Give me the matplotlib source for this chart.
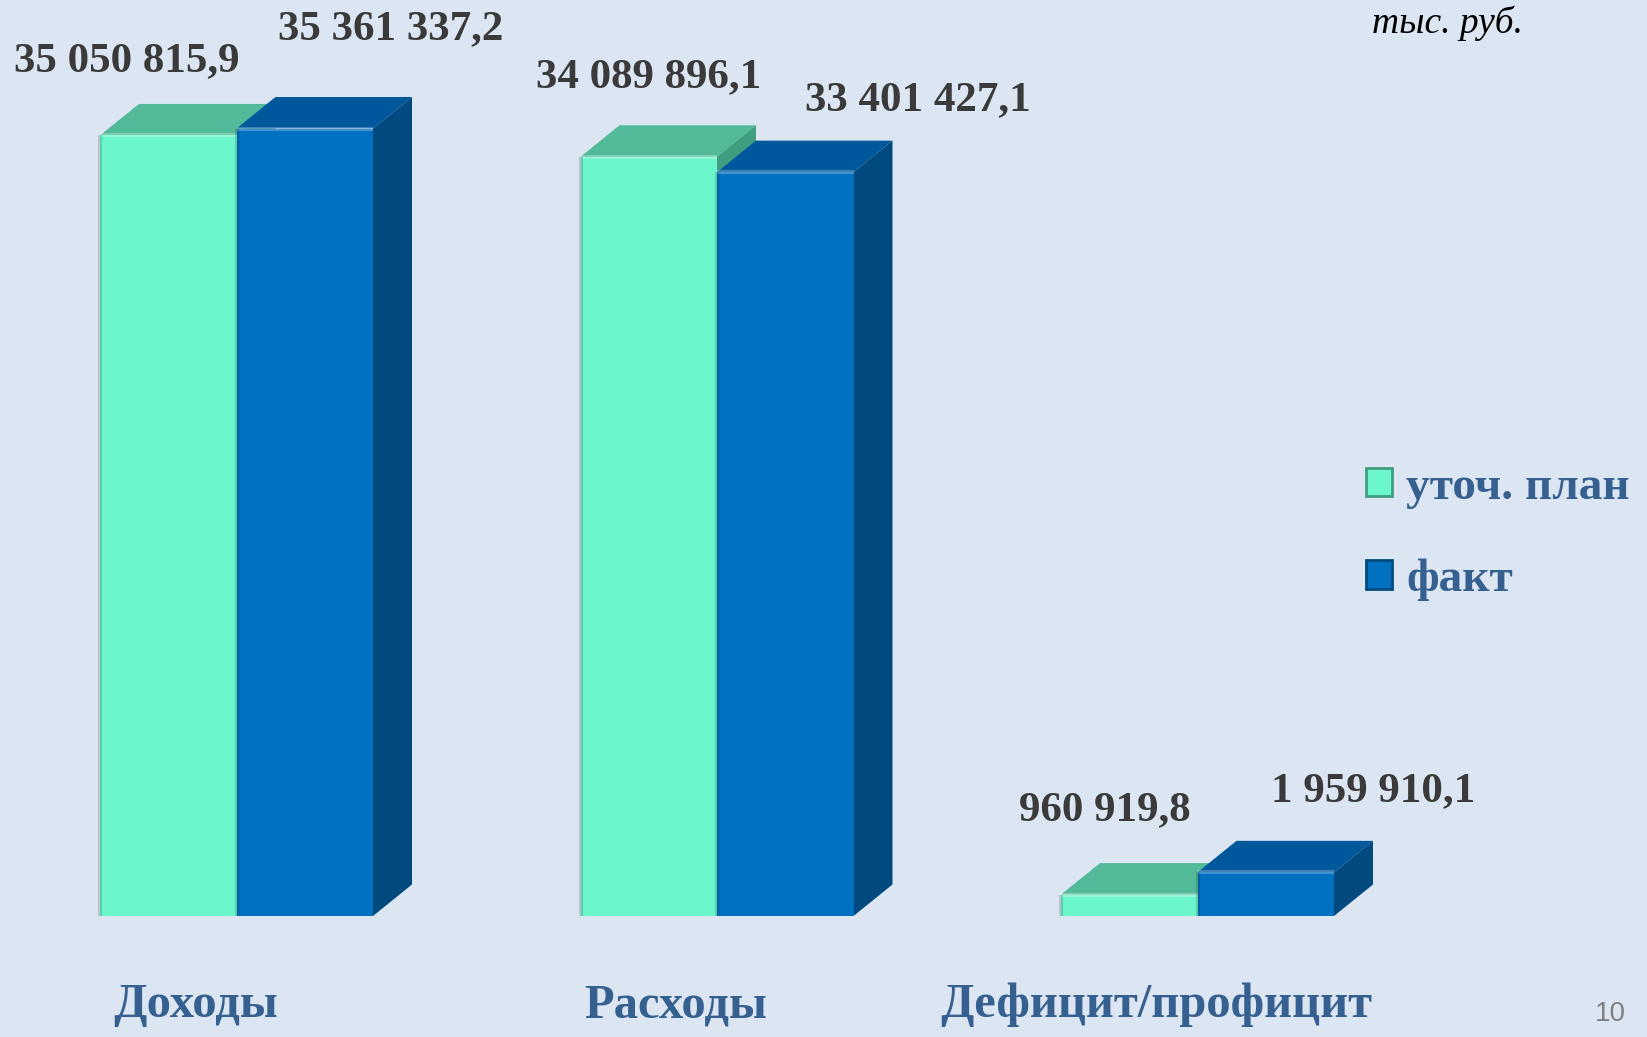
import matplotlib
matplotlib.use('Agg')
import matplotlib.pyplot as plt
from matplotlib.patches import Polygon, Patch
import numpy as np

categories = ['Доходы', 'Расходы', 'Дефицит/профицит']
plan = [35050815.9, 34089896.1, 960919.8]
fact = [35361337.2, 33401427.1, 1959910.1]
series_names = ['уточ. план', 'факт']
unit_label = 'тыс. руб.'
page_number = '10'

# label offsets in pixels (value labels were placed by hand in the slide)
plan_offsets = [(-42, 43), (0, 48), (-24, 53)]
fact_offsets = [(86, 68), (133, 40), (107, 50)]

bg = '#dce6f2'
plan_cols = dict(front='#6af5cb', top='#52ba98', side='#3f9e80')
fact_cols = dict(front='#0070c0', top='#00589c', side='#004a80')
text_blue = '#35608f'
serif = ['Liberation Serif', 'DejaVu Serif']

W, H = 1647, 1037
fig = plt.figure(figsize=(W / 100, H / 100), dpi=100, facecolor=bg)
ax = fig.add_axes([0, 0, 1, 1])
ax.set_facecolor(bg)
ax.axis('off')

# axes scales: group spacing 480.5 px, 22.27 px per million, baseline 121 px from bottom
px_x = 480.5
px_y = 22.27 / 1e6
ax.set_xlim(-236.5 / px_x, (W - 236.5) / px_x)
ax.set_ylim(-121 / px_y, (H - 121) / px_y)

bw = 136.5 / px_x          # bar width
dx = 39 / px_x             # depth offset x
dy = 31.5 / px_y           # depth offset y

x = np.arange(len(categories))


def draw_bars(xs, vals, cols, z):
    bars = ax.bar(xs, vals, width=bw, color=cols['front'], zorder=z + 1,
                  linewidth=0)
    for b, v in zip(bars, vals):
        x0, x1 = b.get_x(), b.get_x() + b.get_width()
        top = Polygon([(x0, v), (x0 + dx, v + dy), (x1 + dx, v + dy), (x1, v)],
                      closed=True, facecolor=cols['top'], edgecolor='none', zorder=z)
        side = Polygon([(x1, 0), (x1 + dx, dy), (x1 + dx, v + dy), (x1, v)],
                       closed=True, facecolor=cols['side'], edgecolor='none', zorder=z)
        ax.add_patch(top)
        ax.add_patch(side)
        # light highlight along the top edge and shaded left edge
        ax.plot([x0, x1], [v, v], color='white', alpha=.25, lw=3,
                zorder=z + 2, solid_capstyle='butt')
        ax.plot([x0, x0], [0, v], color='black', alpha=.15, lw=3,
                zorder=z + 2, solid_capstyle='butt')
    return bars


plan_bars = draw_bars(x - bw / 2, plan, plan_cols, 1)
fact_bars = draw_bars(x + bw / 2, fact, fact_cols, 4)


def fmt(v):
    s = f'{v:,.1f}'.replace(',', ' ').replace('.', ',')
    return s


for xs, vals, offs in ((x - bw / 2, plan, plan_offsets), (x + bw / 2, fact, fact_offsets)):
    for xi, v, (ox, oy) in zip(xs, vals, offs):
        ax.annotate(fmt(v), xy=(xi, v + dy), xytext=(ox, oy),
                    textcoords='offset pixels', ha='center', va='center',
                    fontsize=31, fontweight='bold', family=serif,
                    color='#3a3a3a', zorder=10)

for xi, c in zip(x, categories):
    ax.annotate(c, xy=(xi, 0), xytext=(-41, -89), textcoords='offset pixels',
                ha='center', va='center', fontsize=35, fontweight='bold',
                family=serif, color=text_blue)

handles = [Patch(facecolor=plan_cols['front'], edgecolor=plan_cols['side'], lw=2),
           Patch(facecolor=fact_cols['front'], edgecolor=fact_cols['side'], lw=2)]
leg = ax.legend(handles, series_names, loc='center left',
                bbox_to_anchor=(1366 / W, 1 - 534 / H), frameon=False,
                prop=dict(family=serif, weight='bold', size=34),
                handlelength=0.55, handleheight=0.55, handletextpad=0.3,
                labelspacing=1.05, borderpad=0, borderaxespad=0)
for t in leg.get_texts():
    t.set_color(text_blue)

fig.text(1448 / W, 1 - 33 / H, unit_label, ha='center', va='baseline',
         fontsize=27, style='italic', family=serif, color='black')
fig.text(1610 / W, 1 - 1014 / H, page_number, ha='center', va='center',
         fontsize=20, family=['Liberation Sans', 'DejaVu Sans'], color='#808080')

fig.savefig('out.png', dpi=100, facecolor=bg)
